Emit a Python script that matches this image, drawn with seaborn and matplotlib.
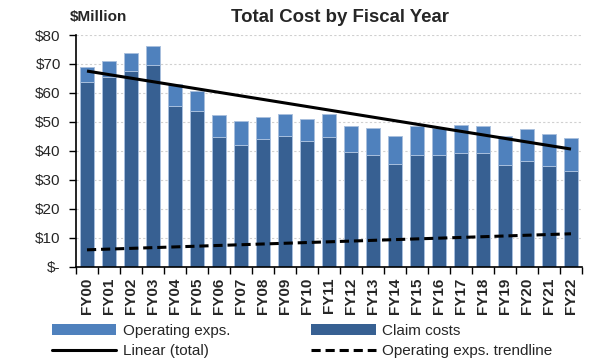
import numpy as np
import pandas as pd
import matplotlib
matplotlib.use("Agg")
import matplotlib.pyplot as plt
import seaborn as sns
from matplotlib.patches import Patch
from matplotlib.lines import Line2D

years = ["FY00", "FY01", "FY02", "FY03", "FY04", "FY05", "FY06", "FY07", "FY08",
         "FY09", "FY10", "FY11", "FY12", "FY13", "FY14", "FY15", "FY16", "FY17",
         "FY18", "FY19", "FY20", "FY21", "FY22"]
claim_costs = [63.7, 65.5, 67.5, 69.8, 55.6, 53.9, 44.6, 42.1, 43.9, 45.0, 43.2, 44.7,
               39.4, 38.4, 35.4, 38.4, 38.4, 39.3, 39.3, 35.0, 36.3, 34.8, 32.9]
total_cost = [69.0, 71.0, 73.9, 76.3, 62.9, 60.8, 52.3, 50.3, 51.8, 52.7, 51.0, 52.8,
              48.4, 47.9, 45.2, 48.6, 48.0, 49.0, 48.6, 45.2, 47.5, 45.7, 44.5]
yticks = [0, 10, 20, 30, 40, 50, 60, 70, 80]
ytick_labels = ["$-", "$10", "$20", "$30", "$40", "$50", "$60", "$70", "$80"]

df = pd.DataFrame({"year": years, "claims": claim_costs, "total": total_cost})
df["opex"] = df["total"] - df["claims"]

sns.set_theme(style="white")
plt.rcParams["font.family"] = ["Liberation Sans", "DejaVu Sans"]

c_opex = "#4f81bd"
c_claim = "#376092"
edge = "#a9c0de"

fig = plt.figure(figsize=(5.95, 3.6), dpi=100)
ax = fig.add_axes([76 / 595, 1 - 266.5 / 360, (582 - 76) / 595, (266.5 - 35) / 360])

# stacked bars: full total in the light colour, claim costs drawn over the bottom part
sns.barplot(data=df, x="year", y="total", color=c_opex, width=0.67,
            edgecolor=edge, linewidth=0.7, saturation=1, ax=ax, zorder=2)
sns.barplot(data=df, x="year", y="claims", color=c_claim, width=0.67,
            edgecolor=edge, linewidth=0.7, saturation=1, ax=ax, zorder=2)

# linear trendlines
x = np.arange(len(years))
k_t, b_t = np.polyfit(x, df["total"], 1)
k_o, b_o = np.polyfit(x, df["opex"], 1)
ax.plot(x, k_t * x + b_t, color="black", lw=2.2, zorder=4, solid_capstyle="butt")
ax.plot(x, k_o * x + b_o, color="black", lw=2.2, ls=(0, (3, 1.6)), zorder=4)

ax.set_xlim(-0.5, len(years) - 0.5)
ax.set_ylim(0, 80)
ax.set_yticks(yticks)
ax.set_yticklabels(ytick_labels, fontsize=11)
ax.set_xticks(x)
ax.set_xticklabels(years, rotation=90, fontsize=11, fontweight="bold")
ax.set_xticks(np.arange(-0.5, len(years)), minor=True)
ax.tick_params(axis="x", which="major", length=0, pad=8)
ax.tick_params(axis="x", which="minor", length=5, width=1, color="black", direction="out", bottom=True)
ax.tick_params(axis="y", which="major", length=5, width=1, color="black", direction="out", left=True, pad=6)
ax.set_xlabel("")
ax.set_ylabel("")

ax.yaxis.grid(True, color="#d0d0d0", ls=(0, (2, 2)), lw=0.8, zorder=0)
ax.set_axisbelow(True)
for s in ["top", "right"]:
    ax.spines[s].set_visible(False)
for s in ["left", "bottom"]:
    ax.spines[s].set_color("black")
    ax.spines[s].set_linewidth(1.2)
    ax.spines[s].set_zorder(5)

fig.text(340 / 595, 1 - 18 / 360, "Total Cost by Fiscal Year", ha="center", va="center",
         fontsize=13.4, fontweight="bold")
fig.text(70 / 595, 1 - 17 / 360, "$Million", ha="left", va="center",
         fontsize=11, fontweight="bold")

handles = [
    Patch(facecolor=c_opex, edgecolor="none"),
    Line2D([], [], color="black", lw=2.2),
    Patch(facecolor=c_claim, edgecolor="none"),
    Line2D([], [], color="black", lw=2.2, ls=(0, (3, 1.6))),
]
labels = ["Operating exps.", "Linear (total)", "Claim costs", "Operating exps. trendline"]
fig.legend(handles, labels, loc="upper left", bbox_to_anchor=(52 / 595, 1 - 324 / 360),
           ncol=2, frameon=False, fontsize=11, handlelength=4.2, handleheight=0.7,
           handletextpad=0.45, columnspacing=5.3, borderpad=0, borderaxespad=0,
           labelspacing=0.4)

fig.savefig("out.png", dpi=100)
